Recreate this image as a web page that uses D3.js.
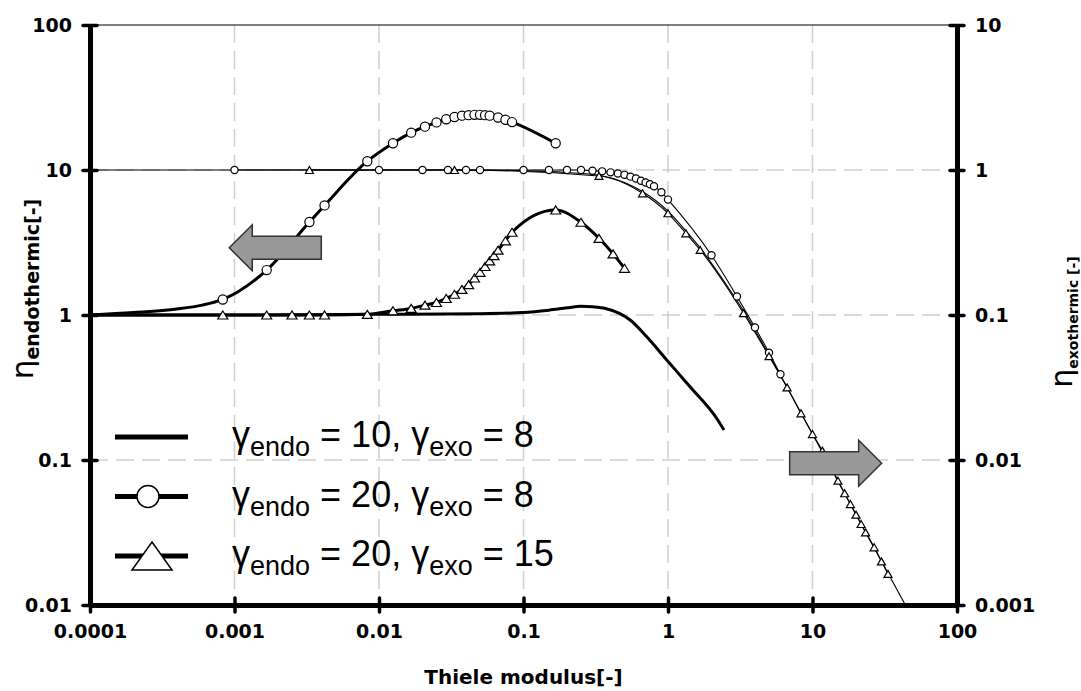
<!DOCTYPE html>
<html>
<head>
<meta charset="utf-8">
<script src="https://cdn.jsdelivr.net/npm/d3@7"></script>
<style>
  body { margin: 0; background: #fff; }
  text { font-family: "Liberation Sans", Arial, sans-serif; }
  .bold { font-family: "DejaVu Sans", sans-serif; font-weight: bold; }
</style>
</head>
<body>
<script>
// axis ticks
var xTicks = [0.0001, 0.001, 0.01, 0.1, 1, 10, 100];
var xTickLabels = ["0.0001", "0.001", "0.01", "0.1", "1", "10", "100"];
var yLeftTicks = [0.01, 0.1, 1, 10, 100];
var yLeftLabels = ["0.01", "0.1", "1", "10", "100"];
var yRightTicks = [0.001, 0.01, 0.1, 1, 10];
var yRightLabels = ["0.001", "0.01", "0.1", "1", "10"];

// gamma_endo = 10, gamma_exo = 8  (no markers)
var endo1X = [0.0001, 0.001, 0.01, 0.05, 0.1, 0.15, 0.2, 0.25, 0.3, 0.37, 0.55, 0.71, 0.98, 1.42, 2.17, 2.44];
var endo1Y = [1.0, 1.0, 1.01, 1.02, 1.04, 1.08, 1.12, 1.15, 1.14, 1.11, 0.92, 0.71, 0.49, 0.32, 0.194, 0.161];
var exo1X = [0.0001, 0.01, 0.05, 0.1, 0.2, 0.333, 0.5, 0.667, 1.0, 1.33, 1.67, 2.5, 3.33, 5, 10, 20, 46];
var exo1Y = [1, 1, 1, 0.99, 0.96, 0.92, 0.82, 0.71, 0.52, 0.38, 0.29, 0.165, 0.107, 0.053, 0.0151, 0.0042, 0.00092];

// gamma_endo = 20, gamma_exo = 8  (circles)
var endo2LeadX = [0.0001, 0.0002, 0.0004, 0.0006];
var endo2LeadY = [1.0, 1.04, 1.1, 1.17];
var endo2X = [0.00083, 0.00167, 0.0033, 0.0042, 0.0083, 0.0125, 0.0167, 0.0208, 0.025, 0.0292, 0.0333, 0.0375, 0.0417, 0.0458, 0.05, 0.0542, 0.0583, 0.0667, 0.075, 0.0833, 0.167];
var endo2Y = [1.28, 2.04, 4.38, 5.7, 11.5, 15.3, 18.1, 19.9, 21.3, 22.4, 23.2, 23.7, 23.9, 24.0, 24.0, 23.9, 23.7, 23.0, 22.2, 21.4, 15.3];
var exo2X = [0.001, 0.01, 0.02, 0.03, 0.04, 0.05, 0.1, 0.15, 0.2, 0.25, 0.3, 0.35, 0.4, 0.45, 0.5, 0.55, 0.6, 0.65, 0.7, 0.75, 0.8, 0.9, 1.0, 2.0, 3.0, 4.0, 5.0, 6.0];
var exo2Y = [1, 1, 1, 1, 1, 1, 1, 1, 1, 1, 0.989, 0.979, 0.963, 0.947, 0.926, 0.90, 0.874, 0.843, 0.82, 0.797, 0.773, 0.703, 0.625, 0.258, 0.134, 0.082, 0.055, 0.039];

// gamma_endo = 20, gamma_exo = 15  (triangles)
var endo3LeadX = [0.0001];
var endo3LeadY = [1.0];
var endo3X = [0.00083, 0.00167, 0.0025, 0.0033, 0.0042, 0.0083, 0.0125, 0.0167, 0.0208, 0.025, 0.0292, 0.0333, 0.0375, 0.0417, 0.0458, 0.05, 0.0542, 0.0583, 0.0625, 0.0667, 0.075, 0.0833, 0.167, 0.25, 0.333, 0.417, 0.5];
var endo3Y = [1, 1, 1, 1, 1, 1.01, 1.07, 1.11, 1.17, 1.22, 1.30, 1.39, 1.50, 1.62, 1.80, 1.97, 2.16, 2.36, 2.57, 2.80, 3.25, 3.72, 5.30, 4.36, 3.38, 2.64, 2.10];
var exo3X = [0.0033, 0.0333, 0.333, 0.667, 1.0, 1.33, 1.67, 3.33, 5.0, 6.67, 8.33, 10, 11.7, 13.3, 15, 16.7, 18.3, 20, 21.7, 23.3, 26.7, 30, 33.3];
var exo3Y = [1, 1, 0.91, 0.691, 0.503, 0.366, 0.281, 0.103, 0.052, 0.0317, 0.021, 0.0151, 0.0116, 0.0091, 0.0072, 0.0059, 0.00497, 0.0042, 0.00362, 0.00317, 0.0025, 0.0020, 0.00164];

var legendLabels = [["10", "8"], ["20", "8"], ["20", "15"]];

var W = 1081, H = 691;
var pL = 90, pR = 957, pT = 25, pB = 605;

var x = d3.scaleLog().domain([0.0001, 100]).range([pL, pR]);
var yL = d3.scaleLog().domain([0.01, 100]).range([pB, pT]);
var yR = d3.scaleLog().domain([0.001, 10]).range([pB, pT]);

var svg = d3.select("body").append("svg")
  .attr("width", W).attr("height", H);

svg.append("clipPath").attr("id", "plot")
  .append("rect").attr("x", pL).attr("y", pT)
  .attr("width", pR - pL).attr("height", pB - pT);

// grid
var grid = svg.append("g");
grid.selectAll("line.v").data(xTicks.slice(1, -1)).enter().append("line")
  .attr("class", "v")
  .attr("x1", function(d) { return x(d); }).attr("x2", function(d) { return x(d); })
  .attr("y1", pT).attr("y2", pB);
grid.selectAll("line.h").data(yLeftTicks.slice(1, -1)).enter().append("line")
  .attr("class", "h")
  .attr("x1", pL).attr("x2", pR)
  .attr("y1", function(d) { return yL(d); }).attr("y2", function(d) { return yL(d); });
grid.selectAll("line")
  .attr("stroke", "#cfcfcf").attr("stroke-width", 1.5).attr("stroke-dasharray", "18,8");

// top frame
svg.append("line").attr("x1", pL).attr("x2", pR).attr("y1", pT).attr("y2", pT)
  .attr("stroke", "#000").attr("stroke-width", 1.2);

function zip(xs, ys) {
  return xs.map(function(d, i) { return [d, ys[i]]; });
}

var plot = svg.append("g").attr("clip-path", "url(#plot)");

function drawLine(pts, ys, w) {
  var line = d3.line()
    .x(function(d) { return x(d[0]); })
    .y(function(d) { return ys(d[1]); })
    .curve(d3.curveMonotoneX);
  plot.append("path").datum(pts)
    .attr("d", line).attr("fill", "none")
    .attr("stroke", "#000").attr("stroke-width", w)
    .attr("stroke-linejoin", "round");
}

function drawCircles(pts, ys, r) {
  plot.append("g").selectAll("circle").data(pts).enter().append("circle")
    .attr("cx", function(d) { return x(d[0]); })
    .attr("cy", function(d) { return ys(d[1]); })
    .attr("r", r).attr("fill", "#fff").attr("stroke", "#000").attr("stroke-width", 1.2);
}

function triPath(w, h) {
  return "M0," + (-h / 2) + "L" + (w / 2) + "," + (h / 2) + "L" + (-w / 2) + "," + (h / 2) + "Z";
}

function drawTriangles(pts, ys, w, h) {
  plot.append("g").selectAll("path").data(pts).enter().append("path")
    .attr("d", triPath(w, h))
    .attr("transform", function(d) { return "translate(" + x(d[0]) + "," + ys(d[1]) + ")"; })
    .attr("fill", "#fff").attr("stroke", "#000").attr("stroke-width", 1.2);
}

// exothermic (thin, right axis)
drawLine(zip(exo1X, exo1Y), yR, 1.1);
drawLine(zip(exo2X, exo2Y), yR, 1.1);
drawLine(zip(exo3X, exo3Y), yR, 1.1);
drawCircles(zip(exo2X, exo2Y), yR, 3.6);
drawTriangles(zip(exo3X, exo3Y), yR, 8, 7);

// endothermic (thick, left axis)
drawLine(zip(endo1X, endo1Y), yL, 3);
drawLine(zip(endo2LeadX.concat(endo2X), endo2LeadY.concat(endo2Y)), yL, 3);
drawLine(zip(endo3LeadX.concat(endo3X), endo3LeadY.concat(endo3Y)), yL, 3);
drawCircles(zip(endo2X, endo2Y), yL, 4.6);
drawTriangles(zip(endo3X, endo3Y), yL, 10, 8);

// axes
var axB = svg.append("g").attr("transform", "translate(0," + pB + ")")
  .call(d3.axisBottom(x).tickValues(xTicks).tickSizeOuter(0)
    .tickFormat(function(d, i) { return xTickLabels[i]; }));
var axL = svg.append("g").attr("transform", "translate(" + pL + ",0)")
  .call(d3.axisLeft(yL).tickValues(yLeftTicks).tickSizeOuter(0)
    .tickFormat(function(d, i) { return yLeftLabels[i]; }));
var axR = svg.append("g").attr("transform", "translate(" + pR + ",0)")
  .call(d3.axisRight(yR).tickValues(yRightTicks).tickSizeOuter(0)
    .tickFormat(function(d, i) { return yRightLabels[i]; }));

[axB, axL, axR].forEach(function(a) {
  a.attr("font-family", null).attr("font-size", null);
  a.select(".domain").attr("stroke", "#000").attr("stroke-width", 5);
  a.selectAll(".tick line").attr("stroke", "#000").attr("stroke-width", 3.5)
    .attr("stroke-linecap", "round");
  a.selectAll(".tick text").attr("fill", "#000").attr("class", "bold")
    .style("font-size", "19px");
});
axB.selectAll(".tick line").attr("y1", -7).attr("y2", 7);
axB.selectAll(".tick text").attr("y", 20).attr("dy", "0.71em");
axL.selectAll(".tick line").attr("x1", -7).attr("x2", 7);
axL.selectAll(".tick text").attr("x", -18);
axR.selectAll(".tick line").attr("x1", -7).attr("x2", 7);
axR.selectAll(".tick text").attr("x", 18);

// axis titles
svg.append("text").attr("class", "bold").attr("x", (pL + pR) / 2).attr("y", 684)
  .attr("text-anchor", "middle").style("font-size", "20px")
  .text("Thiele modulus[-]");

var tl = svg.append("text").attr("class", "bold").attr("transform", "translate(33,289) rotate(-90)")
  .attr("text-anchor", "middle");
tl.append("tspan").style("font-size", "31px").style("font-weight", "normal")
  .style("font-family", "'DejaVu Sans', sans-serif").text("η");
tl.append("tspan").style("font-size", "19px").attr("dy", 6).text("endothermic[-]");

var tr = svg.append("text").attr("class", "bold").attr("transform", "translate(1072,322) rotate(-90)")
  .attr("text-anchor", "middle");
tr.append("tspan").style("font-size", "30px").style("font-weight", "normal")
  .style("font-family", "'DejaVu Sans', sans-serif").text("η");
tr.append("tspan").style("font-size", "14px").attr("dy", 6).text("exothermic [-]");

// arrows (tip anchored in data space)
function arrowPath(dir) {
  var p = [[0, 0], [23, -23], [23, -11.5], [92, -11.5], [92, 11.5], [23, 11.5], [23, 23]];
  return "M" + p.map(function(d) { return (-dir * d[0]) + "," + d[1]; }).join("L") + "Z";
}
svg.append("path").attr("d", arrowPath(-1))
  .attr("transform", "translate(" + x(0.00092) + "," + yL(2.91) + ")")
  .attr("fill", "#999").attr("stroke", "#333").attr("stroke-width", 1.5);
svg.append("path").attr("d", arrowPath(1))
  .attr("transform", "translate(" + x(30.1) + "," + yR(0.0095) + ")")
  .attr("fill", "#999").attr("stroke", "#333").attr("stroke-width", 1.5);

// legend
var lg = svg.append("g");
legendLabels.forEach(function(lab, i) {
  var ly = 437 + i * 59.5;
  lg.append("line").attr("x1", 115).attr("x2", 188).attr("y1", ly).attr("y2", ly)
    .attr("stroke", "#000").attr("stroke-width", 5);
  if (i === 1) {
    lg.append("circle").attr("cx", 148).attr("cy", ly).attr("r", 11)
      .attr("fill", "#fff").attr("stroke", "#000").attr("stroke-width", 1.5);
  }
  if (i === 2) {
    lg.append("path").attr("d", triPath(40, 28))
      .attr("transform", "translate(152," + ly + ")")
      .attr("fill", "#fff").attr("stroke", "#000").attr("stroke-width", 1.5);
  }
  var t = lg.append("text").attr("x", 232).attr("y", ly + 10).style("font-size", "36px");
  t.append("tspan").text("γ");
  t.append("tspan").attr("dy", 9).style("font-size", "27px").text("endo");
  t.append("tspan").attr("dy", -9).text(" = " + lab[0] + ", γ");
  t.append("tspan").attr("dy", 9).style("font-size", "27px").text("exo");
  t.append("tspan").attr("dy", -9).text(" = " + lab[1]);
});
</script>
</body>
</html>
